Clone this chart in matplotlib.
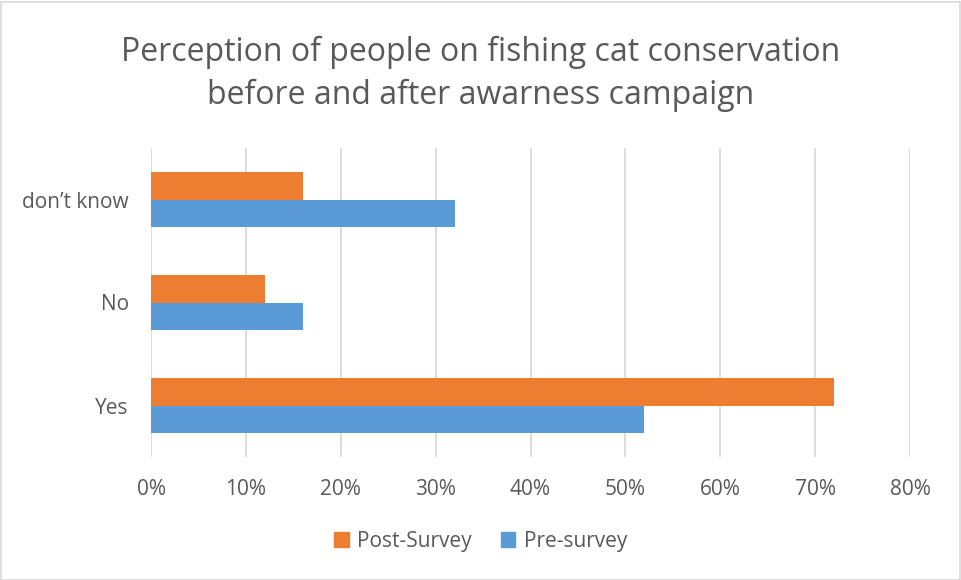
"""Perception of people on fishing cat conservation, horizontal grouped bars."""

import matplotlib.pyplot as plt
from matplotlib.patches import Patch, Rectangle
from matplotlib.ticker import FuncFormatter
import numpy as np

categories = ['Yes', 'No', 'don\u2019t know']
post_survey = [0.72, 0.12, 0.16]
pre_survey = [0.52, 0.16, 0.32]
series_names = ['Post-Survey', 'Pre-survey']
x_ticks = [0.0, 0.1, 0.2, 0.3, 0.4, 0.5, 0.6, 0.7, 0.8]

POST_COLOR = '#ED7D31'
PRE_COLOR = '#5B9BD5'
TEXT_COLOR = '#595959'
GRID_COLOR = '#D9D9D9'

plt.rcParams['font.family'] = ['Open Sans', 'DejaVu Sans']

fig = plt.figure(figsize=(9.61, 5.80), dpi=100)
W, H = 961, 580
ax = fig.add_axes([151 / W, 1 - 457 / H, (910 - 151) / W, (457 - 148) / H])

y = np.arange(len(categories))
h = 0.264
ax.barh(y + h / 2, post_survey, height=h, color=POST_COLOR, label=series_names[0], zorder=3)
ax.barh(y - h / 2, pre_survey, height=h, color=PRE_COLOR, label=series_names[1], zorder=3)

ax.set_xlim(0, 0.8)
ax.set_ylim(-0.5, len(categories) - 0.5)
ax.set_xticks(x_ticks)
ax.xaxis.set_major_formatter(FuncFormatter(lambda v, _: f'{v * 100:.0f}%'))
ax.set_yticks(y)
ax.set_yticklabels(categories)
ax.grid(True, axis='x', color=GRID_COLOR, linewidth=1.3, zorder=0)
for s in ax.spines.values():
    s.set_visible(False)
ax.tick_params(length=0, labelsize=15, colors=TEXT_COLOR)
ax.tick_params(axis='x', pad=16)
ax.tick_params(axis='y', pad=16)

fig.text(0.5, 1 - 74 / H, 'Perception of people on fishing cat conservation\nbefore and after awarness campaign',
         ha='center', va='center', fontsize=23, color=TEXT_COLOR, linespacing=1.36)

handles = [Patch(color=POST_COLOR, label=series_names[0]),
           Patch(color=PRE_COLOR, label=series_names[1])]
fig.legend(handles=handles, loc='center', bbox_to_anchor=(0.5, 1 - 541 / H), ncol=2,
           frameon=False, fontsize=15, labelcolor=TEXT_COLOR, handlelength=0.7,
           handleheight=0.7, handletextpad=0.4, columnspacing=1.4)

fig.patches.append(Rectangle((0.5 / W, 0.5 / H), 1 - 2 / W, 1 - 2 / H, transform=fig.transFigure,
                             fill=False, edgecolor='#D9D9D9', linewidth=1.2))

fig.savefig('out.png', dpi=100)
